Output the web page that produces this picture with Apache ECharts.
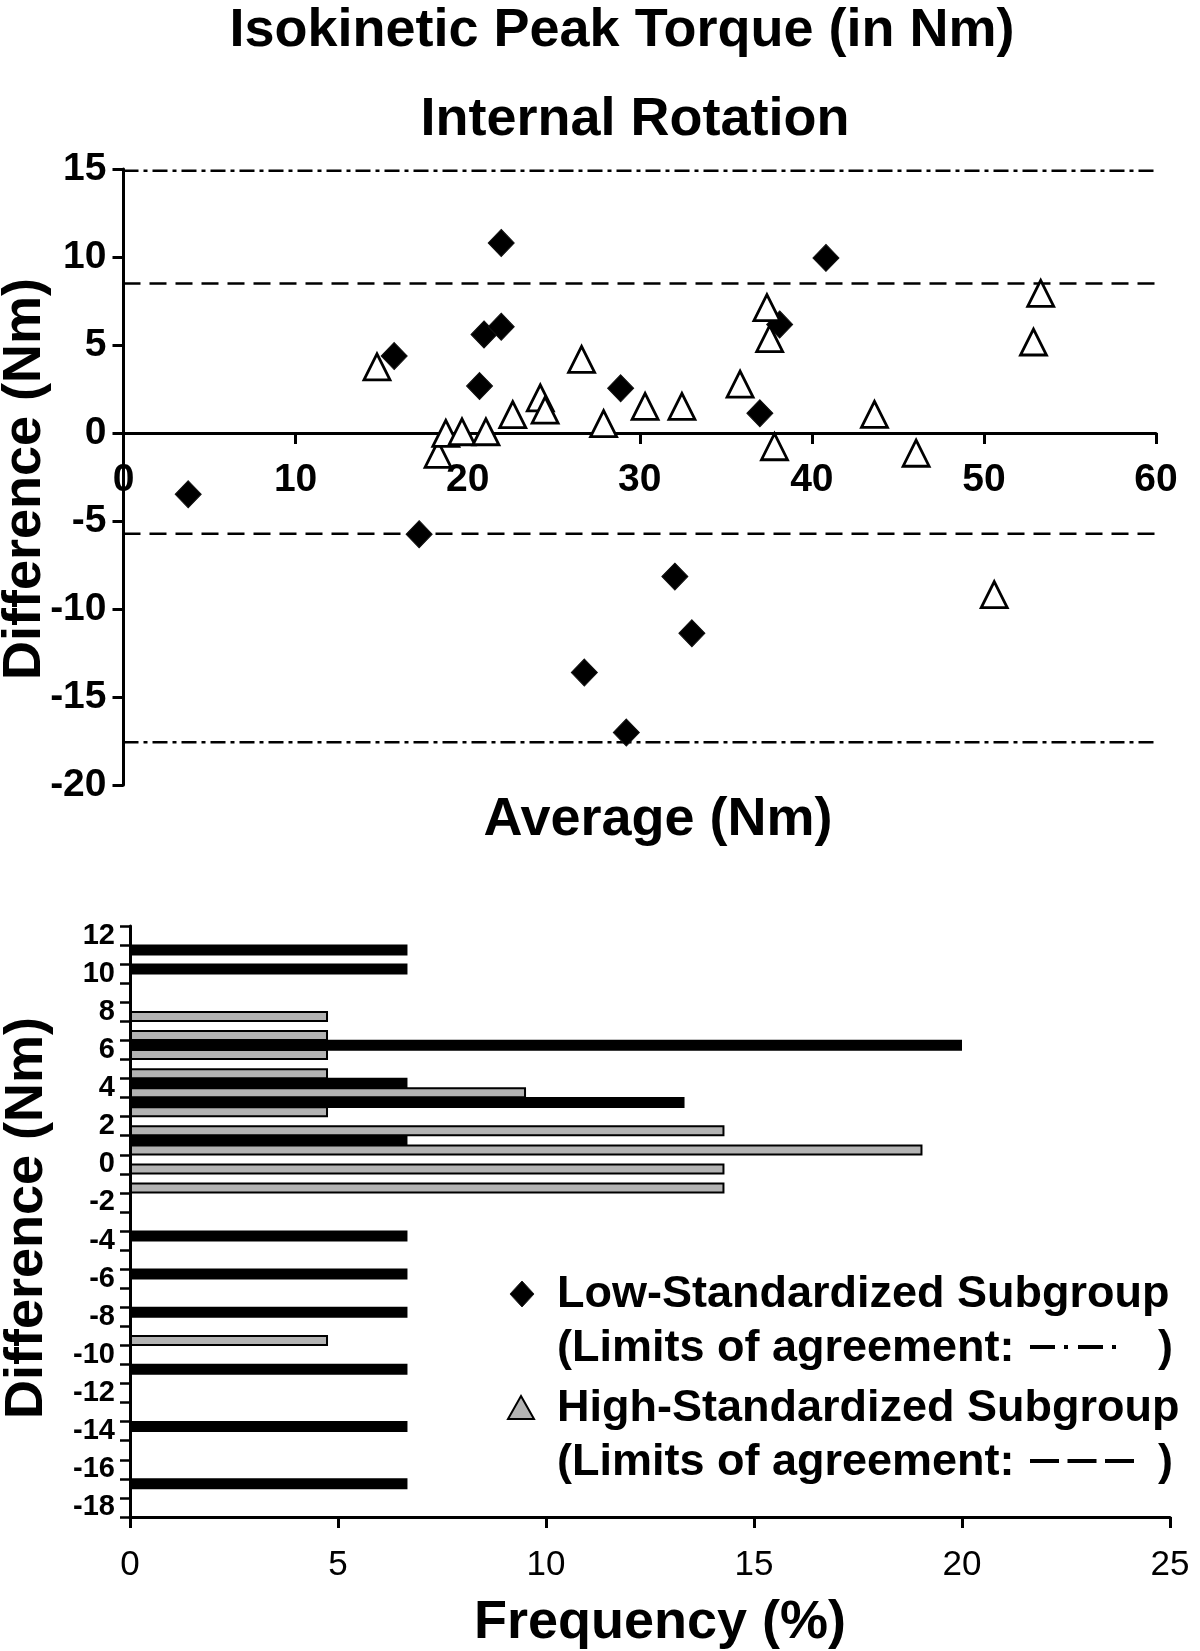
<!DOCTYPE html>
<html>
<head>
<meta charset="utf-8">
<script src="https://cdn.jsdelivr.net/npm/echarts@6/dist/echarts.min.js"></script>
<style>
html,body{margin:0;padding:0;background:#fff;}
#chart{width:1200px;height:1651px;}
</style>
</head>
<body>
<div id="chart"></div>
<script>
// ---------- Data: Bland-Altman scatter (Average, Difference) ----------
const lowPoints = [
  [3.76, -3.48], [15.73, 4.37], [17.18, -5.75], [20.69, 2.67], [20.95, 5.6],
  [21.95, 6.04], [21.95, 10.8], [26.78, -13.61], [28.89, 2.54], [29.22, -17.02],
  [32.04, -8.16], [33.03, -11.38], [36.98, 1.12], [38.13, 6.17], [40.82, 9.95]
];
const highPoints = [
  [14.73, 3.76], [18.28, -1.21], [18.73, -0.02], [19.67, 0.07], [21.06, 0.07],
  [22.62, 1.04], [24.22, 2.0], [24.5, 1.3], [26.62, 4.18], [27.9, 0.53],
  [30.31, 1.51], [32.45, 1.51], [35.83, 2.78], [37.39, 7.12], [37.55, 5.36],
  [37.83, -0.78], [43.64, 1.06], [46.06, -1.15], [50.6, -9.18], [52.88, 5.17],
  [53.3, 7.93]
];
// limits of agreement (upper, lower)
const lowLimits = [14.9, -17.57];
const highLimits = [8.5, -5.73];
const limitXRange = [0, 60.9];

// ---------- Data: frequency histogram ----------
const diffBins = ['12','11','10','9','8','7','6','5','4','3','2','1','0','-1','-2','-3',
  '-4','-5','-6','-7','-8','-9','-10','-11','-12','-13','-14','-15','-16','-17','-18'];
const lowFreq = [null, 6.67, 6.67, null, null, null, 20, null, 6.67, 13.33, null, 6.67, null, null, null, null,
  6.67, null, 6.67, null, 6.67, null, null, 6.67, null, null, 6.67, null, null, 6.67, null];
const highFreq = [null, null, null, null, 4.76, 4.76, 4.76, 4.76, 9.52, 4.76, 14.29, 19.05, 14.29, 14.29, null, null,
  null, null, null, null, null, 4.76, null, null, null, null, null, null, null, null, null];

const FONT = 'Liberation Sans, Arial, Helvetica, sans-serif';

// top plot geometry (pixels)
const TOP_GRID = { left: 123.5, right: 44, top: 169, bottom: 866 };
const Y_MIN = -20, Y_MAX = 15;
const plotH = 1651 - TOP_GRID.top - TOP_GRID.bottom;
// move the x axis (line, ticks, labels) up to the y = 0 line
const xAxisOffset = -(plotH * (0 - Y_MIN) / (Y_MAX - Y_MIN));

function limitSeries(value, dash) {
  return {
    type: 'line',
    xAxisIndex: 0, yAxisIndex: 0,
    data: [[limitXRange[0], value], [limitXRange[1], value]],
    showSymbol: false, symbol: 'none', silent: true, clip: false,
    lineStyle: { color: '#000', width: 2.5, type: dash },
    z: 1
  };
}

const chart = echarts.init(document.getElementById('chart'), null, { renderer: 'canvas' });

const option = {
  backgroundColor: '#fff',
  animation: false,
  textStyle: { fontFamily: FONT },
  grid: [
    TOP_GRID,
    { left: 130, right: 30, top: 926, bottom: 134 }
  ],
  xAxis: [
    {
      gridIndex: 0, type: 'value', min: 0, max: 60, interval: 10,
      position: 'bottom', offset: xAxisOffset,
      axisLine: { show: true, onZero: false, lineStyle: { color: '#000', width: 3 } },
      axisTick: { show: true, length: 11, lineStyle: { color: '#000', width: 3 } },
      axisLabel: { color: '#000', fontSize: 39, fontWeight: 'bold', fontFamily: FONT, margin: 28 },
      splitLine: { show: false }
    },
    {
      gridIndex: 1, type: 'value', min: 0, max: 25, interval: 5,
      axisLine: { show: true, lineStyle: { color: '#000', width: 3 } },
      axisTick: { show: true, length: 11, lineStyle: { color: '#000', width: 3 } },
      axisLabel: { color: '#000', fontSize: 35, fontFamily: FONT, margin: 31 },
      splitLine: { show: false }
    }
  ],
  yAxis: [
    {
      gridIndex: 0, type: 'value', min: Y_MIN, max: Y_MAX, interval: 5,
      axisLine: { show: true, onZero: false, lineStyle: { color: '#000', width: 3 } },
      axisTick: { show: true, length: 11, lineStyle: { color: '#000', width: 3 } },
      axisLabel: { color: '#000', fontSize: 39, fontWeight: 'bold', fontFamily: FONT, margin: 17 },
      splitLine: { show: false }
    },
    {
      gridIndex: 1, type: 'category', data: diffBins, inverse: true,
      axisLine: { show: true, onZero: false, lineStyle: { color: '#000', width: 3 } },
      axisTick: { show: true, interval: 0, length: 10, lineStyle: { color: '#000', width: 2.5 } },
      axisLabel: { color: '#000', fontSize: 29, fontWeight: 'bold', fontFamily: FONT, margin: 15, interval: 1 },
      splitLine: { show: false }
    }
  ],
  series: [
    limitSeries(lowLimits[0], [15, 5, 4, 5]),
    limitSeries(lowLimits[1], [15, 5, 4, 5]),
    limitSeries(highLimits[0], [17, 9]),
    limitSeries(highLimits[1], [17, 9]),
    {
      name: 'Low-Standardized Subgroup', type: 'scatter', xAxisIndex: 0, yAxisIndex: 0,
      data: lowPoints, symbol: 'diamond', symbolSize: [26, 27],
      itemStyle: { color: '#000', borderColor: '#111', borderWidth: 1, opacity: 1 }, z: 3
    },
    {
      name: 'High-Standardized Subgroup', type: 'scatter', xAxisIndex: 0, yAxisIndex: 0,
      data: highPoints, symbol: 'triangle', symbolSize: [26, 26],
      itemStyle: { color: '#fff', borderColor: '#000', borderWidth: 2.8, opacity: 1 }, z: 4
    },
    {
      name: 'Low-Standardized Subgroup', type: 'bar', xAxisIndex: 1, yAxisIndex: 1,
      data: lowFreq, barWidth: 11, barGap: '-15%',
      itemStyle: { color: '#000', borderColor: '#000', borderWidth: 1.5 }
    },
    {
      name: 'High-Standardized Subgroup', type: 'bar', xAxisIndex: 1, yAxisIndex: 1,
      data: highFreq, barWidth: 11, barGap: '-15%',
      itemStyle: { color: '#b3b3b3', borderColor: '#000', borderWidth: 2 }
    }
  ],
  graphic: [
    { type: 'text', x: 622, y: 31, style: { text: 'Isokinetic Peak Torque (in Nm)', font: 'bold 54px ' + FONT, fill: '#000', align: 'center', verticalAlign: 'middle' } },
    { type: 'text', x: 635, y: 120, style: { text: 'Internal Rotation', font: 'bold 54px ' + FONT, fill: '#000', align: 'center', verticalAlign: 'middle' } },
    { type: 'text', x: 658, y: 820, style: { text: 'Average (Nm)', font: 'bold 54px ' + FONT, fill: '#000', align: 'center', verticalAlign: 'middle' } },
    { type: 'text', x: 25, y: 479, rotation: Math.PI / 2, style: { text: 'Difference (Nm)', font: 'bold 54px ' + FONT, fill: '#000', align: 'center', verticalAlign: 'middle' } },
    { type: 'text', x: 27, y: 1218, rotation: Math.PI / 2, style: { text: 'Difference (Nm)', font: 'bold 54px ' + FONT, fill: '#000', align: 'center', verticalAlign: 'middle' } },
    { type: 'text', x: 660, y: 1623, style: { text: 'Frequency (%)', font: 'bold 54px ' + FONT, fill: '#000', align: 'center', verticalAlign: 'middle' } },
    // legend
    { type: 'polygon', shape: { points: [[522, 1281], [534, 1294], [522, 1307], [510, 1294]] }, style: { fill: '#000', stroke: '#222', lineWidth: 1 } },
    { type: 'text', x: 557, y: 1295, style: { text: 'Low-Standardized Subgroup', font: 'bold 45px ' + FONT, fill: '#000', align: 'left', verticalAlign: 'middle' } },
    { type: 'text', x: 557, y: 1349, style: { text: '(Limits of agreement:', font: 'bold 45px ' + FONT, fill: '#000', align: 'left', verticalAlign: 'middle' } },
    { type: 'line', shape: { x1: 1030, y1: 1347, x2: 1078, y2: 1347 }, style: { stroke: '#000', lineWidth: 4, lineDash: [25, 9, 4, 10] } },
    { type: 'line', shape: { x1: 1078, y1: 1347, x2: 1126, y2: 1347 }, style: { stroke: '#000', lineWidth: 4, lineDash: [25, 9, 4, 10] } },
    { type: 'text', x: 1158, y: 1349, style: { text: ')', font: 'bold 45px ' + FONT, fill: '#000', align: 'left', verticalAlign: 'middle' } },
    { type: 'polygon', shape: { points: [[521, 1396], [534, 1419], [508, 1419]] }, style: { fill: '#b3b3b3', stroke: '#000', lineWidth: 2 } },
    { type: 'text', x: 557, y: 1409, style: { text: 'High-Standardized Subgroup', font: 'bold 45px ' + FONT, fill: '#000', align: 'left', verticalAlign: 'middle' } },
    { type: 'text', x: 557, y: 1463, style: { text: '(Limits of agreement:', font: 'bold 45px ' + FONT, fill: '#000', align: 'left', verticalAlign: 'middle' } },
    { type: 'line', shape: { x1: 1030, y1: 1461, x2: 1134, y2: 1461 }, style: { stroke: '#000', lineWidth: 4, lineDash: [29, 8.5] } },
    { type: 'text', x: 1158, y: 1463, style: { text: ')', font: 'bold 45px ' + FONT, fill: '#000', align: 'left', verticalAlign: 'middle' } }
  ]
};

chart.setOption(option);
</script>
</body>
</html>
